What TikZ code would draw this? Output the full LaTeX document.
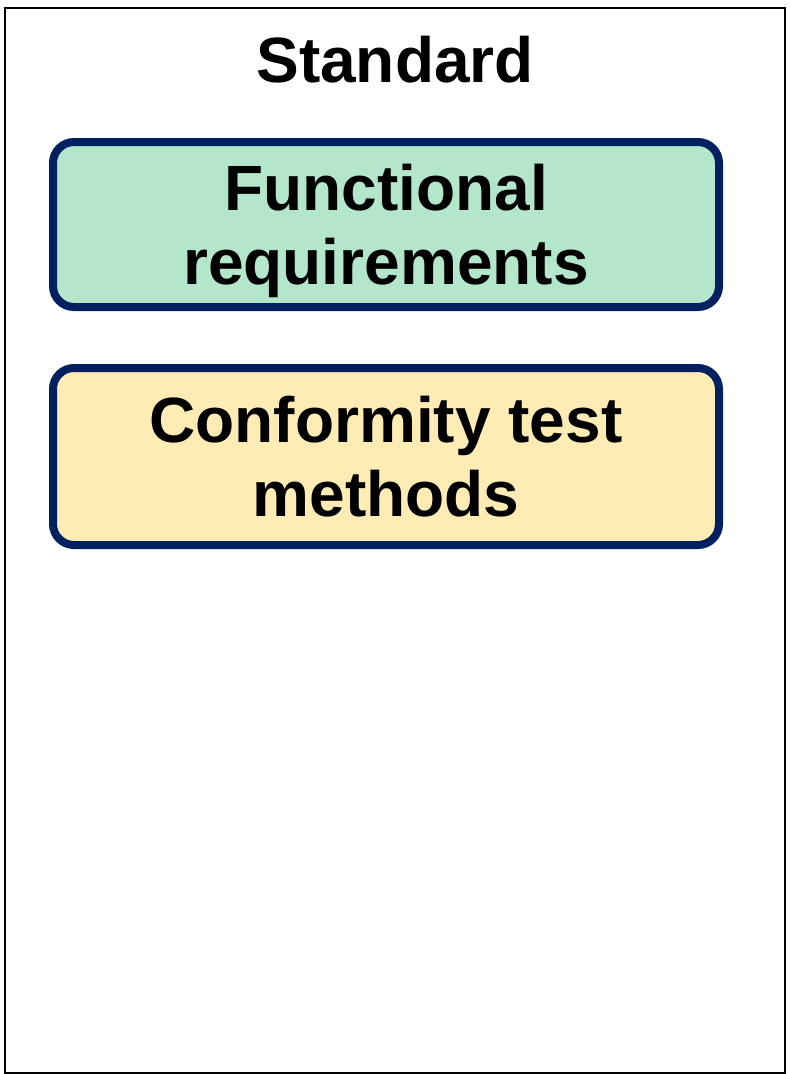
\documentclass[tikz,border=0pt]{standalone}
\usepackage{fontspec}
\setmainfont{Liberation Sans}
\definecolor{navy}{HTML}{002060}
\definecolor{mint}{HTML}{B3E6CB}
\definecolor{cream}{HTML}{FFEBB4}
\begin{document}
\begin{tikzpicture}[x=1pt,y=-1pt,
  panel/.style={draw=black,line width=2pt},
  card/.style={draw=navy,line width=8pt,rounded corners=21pt,minimum width=666pt,inner sep=0pt,align=center,
    text depth=0pt,font=\fontsize{64}{74}\selectfont\bfseries},
  title/.style={font=\fontsize{64}{74}\selectfont\bfseries,inner sep=0pt}]
\useasboundingbox (0,0) rectangle (791,1074);
\node[panel,minimum width=780pt,minimum height=1065pt,inner sep=0pt] (outer) at (394.5,540) {};
\node[title,anchor=base] (std) at (395,82) {Standard};
\node[card,fill=mint,minimum height=165pt] (func) at (386,224.5) {Functional\\requirements};
\node[card,fill=cream,minimum height=177pt] (conf) at (386,456.5) {Conformity test\\methods};
\end{tikzpicture}
\end{document}
